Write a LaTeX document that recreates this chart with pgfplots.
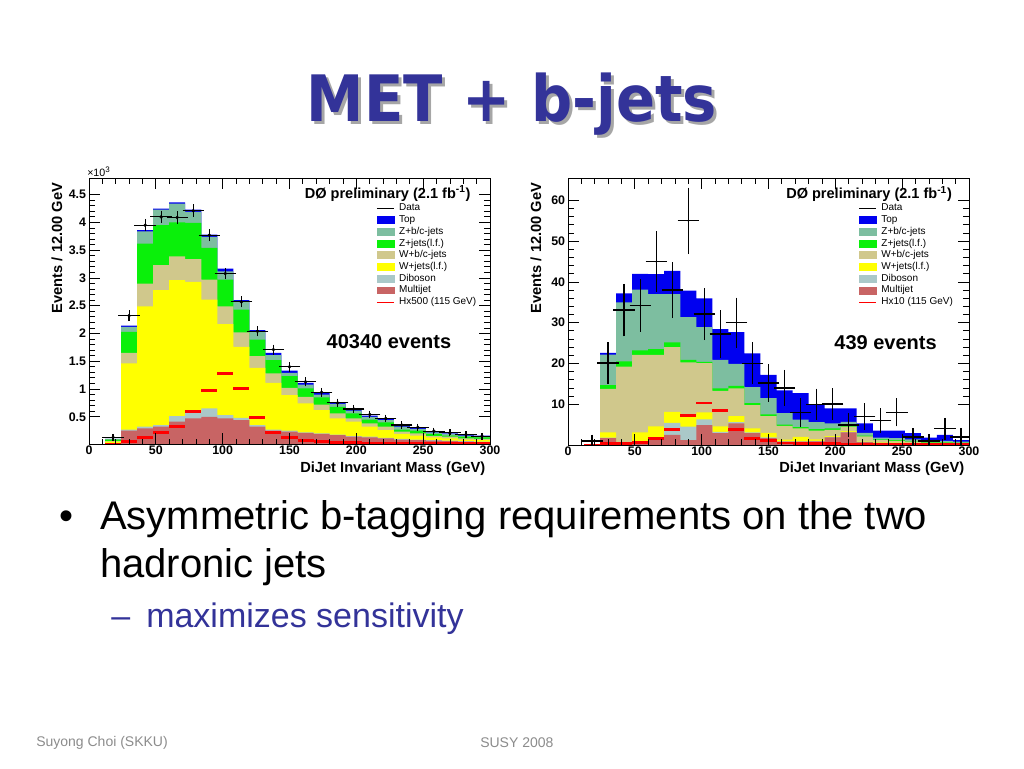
\documentclass[border=0pt]{standalone}
\usepackage{fontspec}
\setmainfont{Liberation Sans}
\newfontfamily\titlefont{DejaVu Sans}[FakeStretch=0.9]
\usepackage{pgfplots}
\pgfplotsset{compat=1.18}
\usepackage{pgfplotstable}

\definecolor{cTop}{RGB}{0,0,240}
\definecolor{cZbc}{RGB}{125,190,160}
\definecolor{cZlf}{RGB}{10,240,10}
\definecolor{cWbc}{RGB}{208,200,140}
\definecolor{cWlf}{RGB}{255,255,0}
\definecolor{cDib}{RGB}{170,200,200}
\definecolor{cMj}{RGB}{200,100,100}
\definecolor{slideblue}{RGB}{51,51,153}
\definecolor{footgray}{RGB}{140,140,140}

% cumulative stack heights per 12 GeV bin (left edge), last row closes the histogram
\pgfplotstableread{
x   mj   db   wl   wb   zl   zb   tp   hx
12  0.01 0.01 0.05 0.06 0.09 0.10 0.10 0.005
24  0.25 0.27 1.46 1.65 2.03 2.12 2.14 0.05
36  0.29 0.32 2.49 2.90 3.62 3.84 3.86 0.13
48  0.32 0.35 2.78 3.23 3.95 4.23 4.25 0.21
60  0.41 0.51 2.96 3.39 4.00 4.34 4.36 0.33
72  0.47 0.59 2.93 3.34 3.99 4.19 4.23 0.60
84  0.50 0.65 2.61 2.97 3.54 3.74 3.78 0.98
96  0.47 0.53 2.17 2.49 2.97 3.12 3.17 1.28
108 0.44 0.48 1.76 2.02 2.43 2.57 2.60 1.01
120 0.32 0.35 1.38 1.59 1.89 2.03 2.06 0.48
132 0.25 0.27 1.11 1.28 1.52 1.61 1.65 0.21
144 0.23 0.25 0.89 1.02 1.23 1.29 1.33 0.12
156 0.21 0.22 0.74 0.86 1.01 1.08 1.11 0.08
168 0.19 0.20 0.62 0.72 0.85 0.90 0.93 0.05
180 0.17 0.18 0.47 0.56 0.68 0.73 0.75 0.04
192 0.14 0.15 0.41 0.47 0.56 0.61 0.63 0.03
204 0.13 0.14 0.32 0.38 0.45 0.50 0.52 0.025
216 0.11 0.12 0.26 0.32 0.40 0.44 0.46 0.02
228 0.09 0.10 0.19 0.23 0.27 0.32 0.33 0.02
240 0.08 0.09 0.16 0.20 0.25 0.28 0.30 0.015
252 0.07 0.08 0.13 0.15 0.19 0.22 0.23 0.01
264 0.06 0.07 0.11 0.14 0.16 0.19 0.20 0.01
276 0.05 0.06 0.09 0.11 0.14 0.16 0.17 0.01
288 0.04 0.05 0.08 0.10 0.13 0.15 0.16 0.01
300 0.04 0.05 0.08 0.10 0.13 0.15 0.16 0.01
}\leftstack

\pgfplotstableread{
x   y    ey
18  0.13 0.012
30  2.32 0.05
42  3.95 0.065
54  4.10 0.065
66  4.09 0.065
78  4.21 0.065
90  3.77 0.062
102 3.08 0.055
114 2.57 0.05
126 2.04 0.045
138 1.71 0.041
150 1.40 0.037
162 1.13 0.034
174 0.94 0.031
186 0.75 0.027
198 0.64 0.025
210 0.54 0.023
222 0.47 0.022
234 0.35 0.019
246 0.31 0.018
258 0.24 0.015
270 0.21 0.014
282 0.18 0.013
294 0.15 0.012
}\leftdata

\pgfplotstableread{
x   mj  db  wl  wb   zl   zb   tp   hx
12  0   0   0   0    0    0    0.1  0
24  1.7 1.8 3.1 13.8 14.7 22.2 22.6 0.3
36  0   0   0   19.2 20.5 35.0 37.2 0.3
48  0.8 0.9 3.1 22.1 23.2 38.1 42.0 0.6
60  1.2 1.6 4.6 22.1 23.5 37.0 41.9 1.5
72  2.5 5.4 8.1 24.0 25.2 37.0 42.7 3.8
84  1.2 4.5 7.2 20.3 20.9 31.4 37.9 7.2
96  4.9 6.3 8.0 20.1 20.4 28.9 36.0 10.3
108 2.9 3.2 4.6 13.3 13.9 20.9 28.4 8.4
120 5.3 5.6 7.1 13.9 14.5 19.9 27.7 3.9
132 2.9 3.1 4.1 9.8  10.3 14.2 22.5 1.5
144 1.7 1.9 3.0 7.1  7.5  11.5 17.2 1.1
156 0.8 0.9 1.3 4.7  5.0  7.8  13.4 0.5
168 0.8 0.9 2.0 4.1  4.4  6.2  12.7 0.4
180 0.9 1.0 1.4 3.5  3.9  5.6  10.0 0.3
192 1.9 2.0 2.2 3.7  4.1  5.3  9.0  0.3
204 3.1 3.2 3.4 4.5  4.8  5.7  9.0  0.2
216 0.7 0.8 0.9 2.1  2.3  3.0  5.3  0.2
228 0.5 0.6 0.7 1.2  1.4  1.8  3.5  0.15
240 0.4 0.5 0.6 1.0  1.2  1.7  3.5  0.15
252 0.3 0.4 0.5 0.8  0.9  1.4  2.9  0.1
264 0.2 0.3 0.3 0.6  0.7  0.8  1.8  0.1
276 0.2 0.2 0.3 0.6  0.7  1.0  2.5  0.1
288 0.1 0.2 0.2 0.5  0.6  0.8  1.2  0.1
300 0.1 0.2 0.2 0.5  0.6  0.8  1.2  0.1
}\rightstack

\pgfplotstableread{
x   y    ey
18  1.0  0.9
30  20.1 4.5
42  33.1 5.8
54  34.2 5.8
66  45.0 6.8
78  38.0 6.2
90  55.0 7.5
102 32.1 5.7
114 27.2 5.2
126 30.0 5.5
138 20.0 4.5
150 15.2 3.9
162 14.0 3.8
174 8.0  2.9
186 10.0 3.2
198 10.1 3.2
210 4.9  2.2
222 7.0  2.6
234 6.0  2.4
246 8.0  2.8
258 2.0  1.4
270 1.0  1.0
282 4.0  2.0
294 2.0  1.4
}\rightdata

\pgfplotsset{
  legbox/.style={legend image code/.code={\fill[#1] (0pt,-2.6pt) rectangle (12.8pt,2.6pt);}},
  legline/.style={legend image code/.code={\draw[#1] (0pt,0pt) -- (12.8pt,0pt);}},
  hist/.style={const plot, draw=none, fill=#1, forget plot},
  dzero/.style={
    scale only axis, width=300.75pt,
    xmin=0, xmax=300, ymin=0,
    axis on top,
    axis line style={line width=0.7pt},
    tick align=inside,
    major tick length=8.5pt, minor tick length=4.2pt,
    tick style={black, line width=0.6pt},
    xtick={0,50,...,300}, minor x tick num=4, minor y tick num=4,
    /pgf/number format/assume math mode=true,
    tick label style={font=\bfseries\fontsize{9.3}{11}\selectfont},
    xticklabel style={inner sep=1pt},
    yticklabel style={inner sep=2pt},
    xlabel={DiJet Invariant Mass (GeV)},
    ylabel={Events / 12.00 GeV},
    every axis x label/.style={at={(axis description cs:1,-0.09)}, anchor=east,
      font=\bfseries\fontsize{11}{13}\selectfont},
    every axis y label/.style={at={(axis description cs:-0.08,1)}, anchor=east, rotate=90,
      font=\bfseries\fontsize{11}{13}\selectfont},
    legend style={anchor=north west, draw=none, fill=none,
      font=\fontsize{7.5}{8}\selectfont, row sep=0.8pt, column sep=3pt,
      nodes={inner sep=0.5pt, text height=5.5pt, text depth=1.5pt}},
    legend cell align=left,
  },
}

\begin{document}
\begin{tikzpicture}
\useasboundingbox[fill=white] (0pt,0pt) rectangle (768pt,-576pt);

\begin{axis}[dzero, at={(66.75pt,-333.375pt)}, anchor=south west, height=199.875pt,
  ymax=4.8, ytick={0.5,1,...,4.5},
  legend style={at={(axis description cs:0.706,0.918)}}]
\addlegendimage{legline={black, line width=0.8pt}}\addlegendentry{Data}
\addlegendimage{legbox=cTop}\addlegendentry{Top}
\addlegendimage{legbox=cZbc}\addlegendentry{Z+b/c-jets}
\addlegendimage{legbox=cZlf}\addlegendentry{Z+jets(l.f.)}
\addlegendimage{legbox=cWbc}\addlegendentry{W+b/c-jets}
\addlegendimage{legbox=cWlf}\addlegendentry{W+jets(l.f.)}
\addlegendimage{legbox=cDib}\addlegendentry{Diboson}
\addlegendimage{legbox=cMj}\addlegendentry{Multijet}
\addlegendimage{legline={red, line width=0.6pt}}\addlegendentry{Hx500 (115 GeV)}

\addplot[hist=cTop] table[x=x, y=tp] {\leftstack} \closedcycle;
\addplot[hist=cZbc] table[x=x, y=zb] {\leftstack} \closedcycle;
\addplot[hist=cZlf] table[x=x, y=zl] {\leftstack} \closedcycle;
\addplot[hist=cWbc] table[x=x, y=wb] {\leftstack} \closedcycle;
\addplot[hist=cWlf] table[x=x, y=wl] {\leftstack} \closedcycle;
\addplot[hist=cDib] table[x=x, y=db] {\leftstack} \closedcycle;
\addplot[hist=cMj]  table[x=x, y=mj] {\leftstack} \closedcycle;
\addplot[forget plot, red, line width=2.2pt, jump mark left] table[x=x, y=hx] {\leftstack};

\addplot[forget plot, black, only marks, mark=*, mark size=1.1pt,
  error bars/.cd, x dir=both, x fixed=6, y dir=both, y explicit,
  error bar style={line width=0.9pt}, error mark options={mark size=2pt, line width=0.9pt}]
  table[x=x, y=y, y error=ey] {\leftdata};

\node[anchor=base east, font=\bfseries\fontsize{10.9}{12}\selectfont]
  at (axis description cs:0.963,0.924) {DØ preliminary (2.1 fb\textsuperscript{-1})};
\node[font=\bfseries\fontsize{15}{17}\selectfont] at (axis description cs:0.748,0.385) {40340 events};
\end{axis}

\begin{axis}[dzero, at={(426pt,-333.75pt)}, anchor=south west, height=200.25pt,
  ymax=65.5, ytick={10,20,...,60},
  legend style={at={(axis description cs:0.714,0.918)}}]
\addlegendimage{legline={black, line width=0.8pt}}\addlegendentry{Data}
\addlegendimage{legbox=cTop}\addlegendentry{Top}
\addlegendimage{legbox=cZbc}\addlegendentry{Z+b/c-jets}
\addlegendimage{legbox=cZlf}\addlegendentry{Z+jets(l.f.)}
\addlegendimage{legbox=cWbc}\addlegendentry{W+b/c-jets}
\addlegendimage{legbox=cWlf}\addlegendentry{W+jets(l.f.)}
\addlegendimage{legbox=cDib}\addlegendentry{Diboson}
\addlegendimage{legbox=cMj}\addlegendentry{Multijet}
\addlegendimage{legline={red, line width=0.6pt}}\addlegendentry{Hx10 (115 GeV)}

\addplot[hist=cTop] table[x=x, y=tp] {\rightstack} \closedcycle;
\addplot[hist=cZbc] table[x=x, y=zb] {\rightstack} \closedcycle;
\addplot[hist=cZlf] table[x=x, y=zl] {\rightstack} \closedcycle;
\addplot[hist=cWbc] table[x=x, y=wb] {\rightstack} \closedcycle;
\addplot[hist=cWlf] table[x=x, y=wl] {\rightstack} \closedcycle;
\addplot[hist=cDib] table[x=x, y=db] {\rightstack} \closedcycle;
\addplot[hist=cMj]  table[x=x, y=mj] {\rightstack} \closedcycle;
\addplot[forget plot, red, line width=2.2pt, jump mark left] table[x=x, y=hx] {\rightstack};

\addplot[forget plot, black, only marks, mark=*, mark size=0.4pt,
  error bars/.cd, x dir=both, x fixed=6, y dir=both, y explicit,
  error bar style={line width=1pt}, error mark options={mark size=2pt, line width=1pt}]
  table[x=x, y=y, y error=ey] {\rightdata};

\node[anchor=base east, font=\bfseries\fontsize{10.9}{12}\selectfont]
  at (axis description cs:0.969,0.924) {DØ preliminary (2.1 fb\textsuperscript{-1})};
\node[font=\bfseries\fontsize{15}{17}\selectfont] at (axis description cs:0.792,0.385) {439 events};
\end{axis}

\begin{scope}[x=0.75pt, y=-0.75pt]
% slide title with its drop shadow
\node[anchor=base, text=black!35, font=\titlefont\bfseries\fontsize{48}{56}\selectfont] at (515,124) {MET + b-jets};
\node[anchor=base, text=slideblue, font=\titlefont\bfseries\fontsize{48}{56}\selectfont] at (512,121) {MET + b-jets};

\node[anchor=south west, inner sep=0pt, font=\fontsize{8}{9}\selectfont] at (87,177) {×10\textsuperscript{3}};

\node[anchor=base west, inner sep=0pt, font=\fontsize{30}{36}\selectfont] at (59,529) {•};
\node[anchor=base west, inner sep=0pt, font=\fontsize{30}{36}\selectfont] at (100,529) {Asymmetric b-tagging requirements on the two};
\node[anchor=base west, inner sep=0pt, font=\fontsize{30}{36}\selectfont] at (100,577) {hadronic jets};
\node[anchor=base west, inner sep=0pt, text=slideblue, font=\fontsize{25.5}{30}\selectfont] at (111,627) {–};
\node[anchor=base west, inner sep=0pt, text=slideblue, font=\fontsize{25.5}{30}\selectfont] at (146,627) {maximizes sensitivity};

\node[anchor=base west, inner sep=0pt, text=footgray, font=\fontsize{10.5}{12}\selectfont] at (36,746) {Suyong Choi (SKKU)};
\node[anchor=base west, inner sep=0pt, text=footgray, font=\fontsize{10.5}{12}\selectfont] at (480,747) {SUSY 2008};
\end{scope}
\end{tikzpicture}
\end{document}
